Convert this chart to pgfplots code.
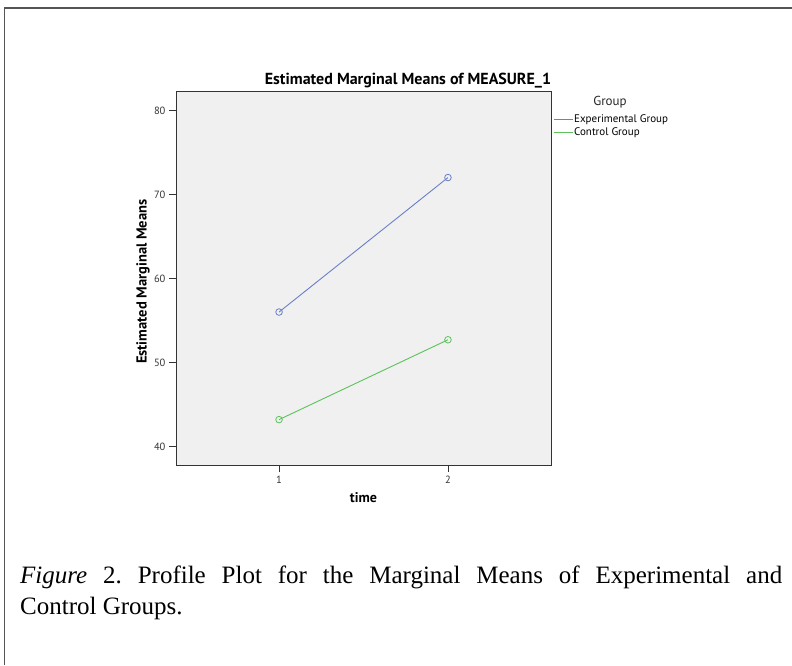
\documentclass[border=0pt]{standalone}
\usepackage{fontspec}
\setmainfont{Liberation Serif}
\newfontfamily\spss{PT Sans}
\usepackage{pgfplots}
\pgfplotsset{compat=1.18}
\definecolor{ExpBlue}{HTML}{6B7FC8}
\definecolor{CtlGreen}{HTML}{5CC25C}
\definecolor{PlotBg}{HTML}{F0F0F0}
\definecolor{Frame}{HTML}{555555}

\begin{document}
\begin{tikzpicture}[x=1pt,y=1pt]
\useasboundingbox (0,0) rectangle (792,665);
\draw[Frame,line width=1.5pt] (4.5,0) -- (4.5,657) -- (792,657);

\begin{axis}[
  at={(176pt,200pt)}, anchor=south west,
  scale only axis, width=375pt, height=374pt,
  xmin=0.39, xmax=2.61, ymin=37.8, ymax=82.3,
  xtick={1,2}, ytick={40,50,60,70,80},
  tick align=outside, tick pos=left,
  major tick length=7pt,
  axis background/.style={fill=PlotBg},
  axis line style={draw=black!80, line width=0.9pt},
  every tick/.style={black!80, line width=0.9pt},
  tick label style={font=\spss\fontsize{10.5}{11}\selectfont, text=black!80},
  /pgf/number format/assume math mode=true,
  xlabel={time}, ylabel={Estimated Marginal Means},
  every axis x label/.style={at={(axis description cs:0.5,-0.088)}, anchor=center, font=\spss\bfseries\fontsize{14}{15}\selectfont},
  every axis y label/.style={at={(axis description cs:-0.088,0.49)}, anchor=center, rotate=90, font=\spss\bfseries\fontsize{14.5}{15}\selectfont},
  legend style={at={(axis description cs:1.005,0.94)}, anchor=north west, draw=none, fill=none,
    font=\spss\fontsize{11}{12}\selectfont, inner sep=0pt, row sep=1pt, column sep=0pt,
    nodes={inner sep=1.2pt, anchor=west}},
  legend cell align=left,
]
\addlegendimage{legend image code/.code={\draw[ExpBlue, line width=0.9pt] (0pt,0pt) -- (19pt,0pt);}}
\addlegendentry{Experimental Group}
\addlegendimage{legend image code/.code={\draw[CtlGreen, line width=0.9pt] (0pt,0pt) -- (19pt,0pt);}}
\addlegendentry{Control Group}
\addplot[ExpBlue, line width=0.9pt, mark=o, mark size=3.3pt, mark options={line width=0.8pt}, forget plot]
  coordinates {(1,56.0)(2,72.0)};
\addplot[CtlGreen, line width=0.9pt, mark=o, mark size=3.3pt, mark options={line width=0.8pt}, forget plot]
  coordinates {(1,43.2)(2,52.7)};
\end{axis}

\node[anchor=base, font=\spss\bfseries\fontsize{16}{17}\selectfont] at (408,580) {Estimated Marginal Means of MEASURE\_1};
\node[anchor=base, font=\spss\fontsize{13}{14}\selectfont, text=black!85] at (610,559) {Group};

\node[anchor=base west, inner sep=0pt] at (20,82) {\parbox[t]{762pt}{\frenchspacing\fontsize{25}{31}\selectfont\textit{Figure} 2. Profile Plot for the Marginal Means of Experimental and\linebreak Control Groups.}};
\end{tikzpicture}
\end{document}
